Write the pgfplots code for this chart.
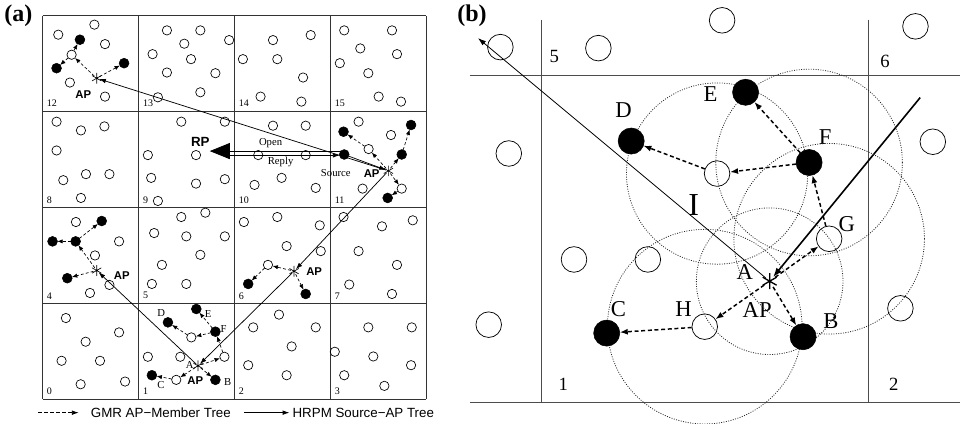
\documentclass[border=0pt]{standalone}
\usepackage{pgfplots}
\pgfplotsset{compat=1.18}
\usepackage{fontspec}
\setmainfont{Liberation Serif}
\setsansfont{Liberation Sans}
\usetikzlibrary{arrows.meta}
\newcommand{\fs}[1]{\fontsize{#1}{#1}\selectfont}
\pgfplotsset{
 gA/.style={black, mark=none, line width=0.5pt, dash pattern=on 2.2pt off 1.6pt, -{Latex[length=4pt,width=3.2pt]}, shorten <=2.5pt, shorten >=3.6pt},
 gC/.style={gA, shorten <=3.6pt},
 hA/.style={black, mark=none, line width=0.55pt, -{Latex[length=5pt,width=3.4pt]}, shorten <=2pt, shorten >=2pt},
 bA/.style={black, mark=none, line width=1.1pt, dash pattern=on 3pt off 2pt, -{Latex[length=6pt,width=4.5pt]}, shorten <=5pt, shorten >=9.8pt},
 bC/.style={bA, shorten <=9.8pt},
 gl/.style={black!80, mark=none, line width=0.6pt},
 dc/.style={only marks, mark=o, mark options={solid, dash pattern=on 0.7pt off 1.1pt, black!85, line width=0.6pt}},
}
\begin{document}
\begin{tikzpicture}
\begin{axis}[width=10in, height=4.5in, scale only axis, xmin=0, xmax=960, ymin=0, ymax=432, y dir=reverse, hide axis, clip=false]
% ---------------- panel (a) grid
\addplot[gl] coordinates {(46,24.5) (46,406.5)};
\addplot[gl] coordinates {(141.5,24.5) (141.5,406.5)};
\addplot[gl] coordinates {(237,24.5) (237,406.5)};
\addplot[gl] coordinates {(332.5,24.5) (332.5,406.5)};
\addplot[gl] coordinates {(428.5,24.5) (428.5,406.5)};
\addplot[gl] coordinates {(46,24.5) (428.5,24.5)};
\addplot[gl] coordinates {(46,119.5) (428.5,119.5)};
\addplot[gl] coordinates {(46,215.5) (428.5,215.5)};
\addplot[gl] coordinates {(46,311) (428.5,311)};
\addplot[gl] coordinates {(46,406.5) (428.5,406.5)};
% open nodes (a)
\addplot[only marks, mark=o, mark size=3.5pt, mark options={line width=0.5pt}, black] coordinates {
(97.7,33.3) (61.7,43.3) (108.3,52.7) (75,63.3) (73.3,91) (108.3,105)
(170,39) (203.3,39) (232,48.7) (187.3,52.3) (155.7,62.7) (194,67.7) (170,81) (218.3,81.7) (203.3,100.7) (161,105.7)
(275.7,48.7) (313.3,43.7) (245.7,67.7) (280,67.7) (305.7,86) (263.3,105) (304,110)
(346.7,39) (394.3,39) (362.7,57) (399.3,62.7) (342.3,71.7) (370.7,81.7) (381,105) (403.3,110)
(60,130) (84.3,138.7) (107.7,134.7) (60,158.7) (66.7,188.3) (89.3,182.3) (112.7,182.3) (84.3,206)
(184.3,130) (227.7,130) (151,163.3) (199,163.3) (154.3,186) (199,191.7) (227.7,187.3) (161,209)
(275.7,134) (308.3,134) (261,163.3) (308.3,163.3) (284.3,186) (318.3,196) (257.3,193)
(361,130) (393.3,143.3) (371,157.3) (404,196.7) (365,196.7)
(79.3,230) (122.3,249.3) (98.3,263.3) (93.3,300.7) (112.7,292.7)
(184.3,225) (208.3,220.7) (157.3,241) (189.3,244.3) (227.7,244.3) (203.3,262.7) (165,272.7) (155,291.7) (189.3,291.7)
(246.7,230) (280,225) (322.3,233.3) (289.3,254) (323.3,259) (270.7,272.7)
(346,225) (384.3,234.3) (415,228.3) (361,259) (399.3,272.7) (351.7,292.3) (394.3,301.7)
(69.3,325.7) (122.3,340) (89,349.3) (65,368.3) (103.3,368.3) (84,391.7) (128.3,389)
(151,364.3) (183.3,364.3) (227.3,364.3) (194.3,345) (179.3,387.3)
(281.7,322.3) (256,335) (318.3,335) (294.3,354) (251,372.7) (289.3,382.7)
(370.7,335) (414,335) (337.3,359.3) (375.7,364) (413.3,372.7) (346.7,382.7) (386.7,393.3)
};
% filled nodes (a)
\addplot[only marks, mark=*, mark size=3.7pt, black] coordinates {
(83.3,48.3) (60,76.7) (127.3,71.7)
(346,140) (413.3,133.3) (404,162.7) (346.7,162.7) (390,206)
(105,229) (56,249.3) (79,249.3) (70.7,286)
(251,291.7) (308.3,301.7)
(171,330) (199.3,316.7) (218.3,339.3) (155,382.7) (218.3,387.3)
};
% AP asterisks (a)
\addplot[only marks, mark=asterisk, mark size=4pt, black, mark options={line width=0.5pt}] coordinates {
(100,86.7) (390.7,179) (296.7,279) (100,278.3) (201,373.3)};
% GMR dashed arrows (a)
\addplot[gA] coordinates {(100,86.7) (75,63.3)};
\addplot[gC] coordinates {(75,63.3) (83.3,48.3)};
\addplot[gC] coordinates {(75,63.3) (60,76.7)};
\addplot[gA] coordinates {(100,86.7) (127.3,71.7)};
\addplot[gA] coordinates {(390.7,179) (371,157.3)};
\addplot[gC] coordinates {(371,157.3) (346,140)};
\addplot[gA] coordinates {(390.7,179) (404,162.7)};
\addplot[gC] coordinates {(404,162.7) (413.3,133.3)};
\addplot[gA] coordinates {(390.7,179) (404,196.7)};
\addplot[gC] coordinates {(404,196.7) (390,206)};
\addplot[gA] coordinates {(296.7,279) (270.7,272.7)};
\addplot[gC] coordinates {(270.7,272.7) (251,291.7)};
\addplot[gA] coordinates {(296.7,279) (308.3,301.7)};
\addplot[gA] coordinates {(100,278.3) (79,249.3)};
\addplot[gC] coordinates {(79,249.3) (56,249.3)};
\addplot[gC] coordinates {(79,249.3) (105,229)};
\addplot[gA] coordinates {(100,278.3) (70.7,286)};
\addplot[gA] coordinates {(201,373.3) (227.3,364.3)};
\addplot[gC] coordinates {(227.3,364.3) (218.3,339.3)};
\addplot[gC] coordinates {(218.3,339.3) (199.3,316.7)};
\addplot[gC] coordinates {(218.3,339.3) (194.3,345)};
\addplot[gC] coordinates {(194.3,345) (171,330)};
\addplot[gA] coordinates {(201,373.3) (179.3,387.3)};
\addplot[gC] coordinates {(179.3,387.3) (155,382.7)};
\addplot[gA] coordinates {(201,373.3) (218.3,387.3)};
% HRPM solid arrows (a)
\addplot[hA] coordinates {(390.7,179) (100,86.7)};
\addplot[hA, shorten <=3.7pt] coordinates {(346.7,162.7) (390.7,179)};
\addplot[hA] coordinates {(390.7,179) (296.7,279)};
\addplot[hA] coordinates {(296.7,279) (201,373.3)};
\addplot[hA] coordinates {(201,373.3) (100,278.3)};
% Open / Reply
\addplot[black, mark=none, line width=0.6pt, -{Triangle[length=15pt,width=12pt]}] coordinates {(343,159.3) (212.7,159.3)};
\addplot[black, mark=none, line width=0.6pt, -{Latex[length=5pt,width=3.4pt]}] coordinates {(233,163.6) (342,163.6)};
% labels (a)
\node[font=\fs{18}\bfseries] at (axis cs:22,24) {(a)};
\node[font=\sffamily\bfseries\fs{8.5}] at (axis cs:86.7,102.7) {AP};
\node[font=\sffamily\bfseries\fs{8.5}] at (axis cs:374,182) {AP};
\node[font=\sffamily\bfseries\fs{8.5}] at (axis cs:316.7,279) {AP};
\node[font=\sffamily\bfseries\fs{8.5}] at (axis cs:125,283.3) {AP};
\node[font=\sffamily\bfseries\fs{8.5}] at (axis cs:198.3,388) {AP};
\node[font=\sffamily\bfseries\fs{10}] at (axis cs:203.3,150) {RP};
\node[font=\fs{8}] at (axis cs:273.3,151) {Open};
\node[font=\fs{8}] at (axis cs:283.3,170.5) {Reply};
\node[font=\fs{8}] at (axis cs:338.3,181) {Source};
\node[font=\fs{8}] at (axis cs:164.3,321) {D};
\node[font=\fs{8}] at (axis cs:211,321.5) {E};
\node[font=\fs{8}] at (axis cs:226.5,336.7) {F};
\node[font=\fs{8}] at (axis cs:192.7,372) {A};
\node[font=\fs{8}] at (axis cs:230.5,389) {B};
\node[font=\fs{8}] at (axis cs:164,392.7) {C};
\node[font=\fs{7.5}, anchor=west, inner sep=0pt] at (axis cs:50,112) {12};
\node[font=\fs{7.5}, anchor=west, inner sep=0pt] at (axis cs:146,112) {13};
\node[font=\fs{7.5}, anchor=west, inner sep=0pt] at (axis cs:241.5,112) {14};
\node[font=\fs{7.5}, anchor=west, inner sep=0pt] at (axis cs:337,112) {15};
\node[font=\fs{7.5}, anchor=west, inner sep=0pt] at (axis cs:50,208) {8};
\node[font=\fs{7.5}, anchor=west, inner sep=0pt] at (axis cs:146,208) {9};
\node[font=\fs{7.5}, anchor=west, inner sep=0pt] at (axis cs:241.5,208) {10};
\node[font=\fs{7.5}, anchor=west, inner sep=0pt] at (axis cs:337,208) {11};
\node[font=\fs{7.5}, anchor=west, inner sep=0pt] at (axis cs:50,303.5) {4};
\node[font=\fs{7.5}, anchor=west, inner sep=0pt] at (axis cs:146,303.5) {5};
\node[font=\fs{7.5}, anchor=west, inner sep=0pt] at (axis cs:241.5,303.5) {6};
\node[font=\fs{7.5}, anchor=west, inner sep=0pt] at (axis cs:337,303.5) {7};
\node[font=\fs{7.5}, anchor=west, inner sep=0pt] at (axis cs:50,399) {0};
\node[font=\fs{7.5}, anchor=west, inner sep=0pt] at (axis cs:146,399) {1};
\node[font=\fs{7.5}, anchor=west, inner sep=0pt] at (axis cs:241.5,399) {2};
\node[font=\fs{7.5}, anchor=west, inner sep=0pt] at (axis cs:337,399) {3};
% legend
\addplot[black, mark=none, line width=0.5pt, dash pattern=on 2.5pt off 2pt, -{Latex[length=5pt,width=3.4pt]}] coordinates {(42,420) (82,420)};
\node[font=\sffamily\fs{10}, anchor=west, inner sep=0pt] at (axis cs:94,420) {GMR AP−Member Tree};
\addplot[black, mark=none, line width=0.5pt, -{Latex[length=5pt,width=3.4pt]}] coordinates {(247,420) (292,420)};
\node[font=\sffamily\fs{10}, anchor=west, inner sep=0pt] at (axis cs:295,420) {HRPM Source−AP Tree};
% ---------------- panel (b)
\addplot[gl, black!70] coordinates {(472,84.3) (960,84.3)};
\addplot[gl, black!70] coordinates {(472,409.3) (960,409.3)};
\addplot[gl, black!70] coordinates {(543.3,28.3) (543.3,409.3)};
\addplot[gl, black!70] coordinates {(869,28.3) (869,409.3)};
% range circles
\addplot[dc, mark size=55pt] coordinates {(770.7,289)};
\addplot[dc, mark size=70pt] coordinates {(810,170.7)};
\addplot[dc, mark size=68pt] coordinates {(718.3,181.7)};
\addplot[dc, mark size=71.5pt] coordinates {(830,246.7)};
\addplot[dc, mark size=73pt] coordinates {(706,334.3)};
% nodes (b)
\addplot[only marks, mark=o, mark size=9.6pt, mark options={line width=0.55pt}, black] coordinates {
(502.3,55.7) (600,56.7) (723.3,29) (916,35) (510.7,161.7) (933.3,150) (718.3,181.7)
(575.7,267.3) (649.3,267.3) (490.7,332.3) (706,334.3) (830,246.7) (901,316)};
\addplot[only marks, mark=*, mark size=9.8pt, black] coordinates {
(632.7,149.3) (746.7,100.7) (810,170.7) (608.3,340.7) (804,344.3)};
\addplot[only marks, mark=asterisk, mark size=6pt, black, mark options={line width=1pt}] coordinates {(770.7,289)};
% dashed GMR arrows (b)
\addplot[bA] coordinates {(770.7,289) (830,246.7)};
\addplot[bC] coordinates {(830,246.7) (810,170.7)};
\addplot[bC] coordinates {(810,170.7) (746.7,100.7)};
\addplot[bC] coordinates {(810,170.7) (718.3,181.7)};
\addplot[bC] coordinates {(718.3,181.7) (632.7,149.3)};
\addplot[bA] coordinates {(770.7,289) (706,334.3)};
\addplot[bC] coordinates {(706,334.3) (608.3,340.7)};
\addplot[bA] coordinates {(770.7,289) (804,344.3)};
% solid lines (b)
\addplot[black, mark=none, line width=0.6pt, -{Latex[length=6pt,width=4pt]}, shorten <=4pt] coordinates {(770.7,289) (480,46.7)};
\addplot[black, mark=none, line width=1.2pt, -{Latex[length=7pt,width=5pt]}, shorten >=4pt] coordinates {(920.7,106) (770.7,289)};
% labels (b)
\node[font=\fs{18}\bfseries] at (axis cs:474,24) {(b)};
\node[font=\fs{14}] at (axis cs:556,65) {5};
\node[font=\fs{14}] at (axis cs:885.7,70) {6};
\node[font=\fs{14}] at (axis cs:565,391.7) {1};
\node[font=\fs{14}] at (axis cs:894.3,391.7) {2};
\node[font=\fs{17}] at (axis cs:625,118.3) {D};
\node[font=\fs{17}] at (axis cs:711.7,102.3) {E};
\node[font=\fs{17}] at (axis cs:826,145.7) {F};
\node[font=\fs{17}] at (axis cs:847.7,231.7) {G};
\node[font=\fs{17}] at (axis cs:746,280) {A};
\node[font=\fs{17}] at (axis cs:758.3,317.3) {AP};
\node[font=\fs{17}] at (axis cs:831.7,328.3) {B};
\node[font=\fs{17}] at (axis cs:620,316.7) {C};
\node[font=\fs{17}] at (axis cs:685,316.7) {H};
\node[font=\fs{24}] at (axis cs:695,212.7) {I};
\end{axis}
\end{tikzpicture}
\end{document}
